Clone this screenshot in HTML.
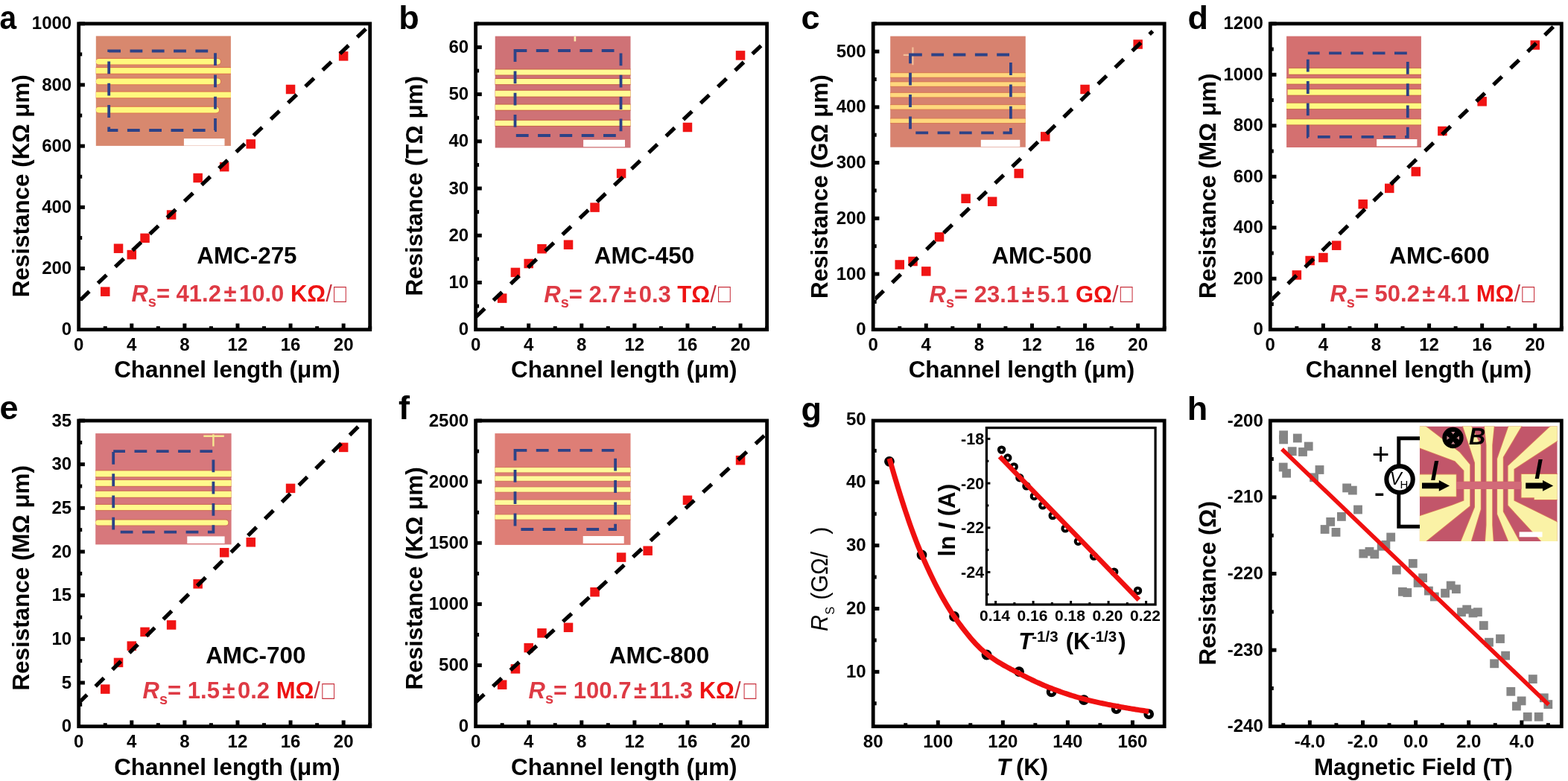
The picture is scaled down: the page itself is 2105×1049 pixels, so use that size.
<!DOCTYPE html><html><head><meta charset="utf-8"><style>html,body{margin:0;padding:0;background:#fff;overflow:hidden}svg{display:block}</style></head><body><svg width="2105" height="1049" viewBox="0 0 2105 1049" font-family='"Liberation Sans", Arial, sans-serif'>
<rect width="100%" height="100%" fill="#fff"/>
<defs>
<clipPath id="clip0"><rect x="108.1" y="34.2" width="386.2" height="406.1"/></clipPath>
<clipPath id="clip1"><rect x="641" y="34.2" width="386.2" height="406.1"/></clipPath>
<clipPath id="clip2"><rect x="1174.6" y="34.2" width="386.2" height="406.1"/></clipPath>
<clipPath id="clip3"><rect x="1707.7" y="34.2" width="386.2" height="406.1"/></clipPath>
<clipPath id="clip4"><rect x="108.1" y="567.4" width="386.2" height="405.9"/></clipPath>
<clipPath id="clip5"><rect x="641" y="567.4" width="386.2" height="405.9"/></clipPath>
<clipPath id="clip6"><rect x="1174.6" y="567.4" width="386.2" height="405.9"/></clipPath>
<clipPath id="clip7"><rect x="1707.7" y="567.4" width="386.2" height="405.9"/></clipPath>
</defs>
<rect x="128.8" y="48.4" width="181.1" height="147.5" fill="#D8886E"/>
<rect x="128.8" y="77.8" width="168.2" height="9.8" fill="#DC7450" rx="4.8"/>
<rect x="128.8" y="78.9" width="167.2" height="7.6" fill="#FFF87E" rx="3.8"/>
<rect x="128.8" y="90" width="181.1" height="9.8" fill="#DC7450" rx="0"/>
<rect x="128.8" y="91.1" width="181.1" height="7.6" fill="#FFF87E" rx="0"/>
<rect x="128.8" y="104.5" width="168.2" height="9.8" fill="#DC7450" rx="4.8"/>
<rect x="128.8" y="105.6" width="167.2" height="7.6" fill="#FFF87E" rx="3.8"/>
<rect x="128.8" y="122.5" width="181.1" height="9.8" fill="#DC7450" rx="0"/>
<rect x="128.8" y="123.6" width="181.1" height="7.6" fill="#FFF87E" rx="0"/>
<rect x="128.8" y="142.6" width="166.2" height="9.9" fill="#DC7450" rx="4.85"/>
<rect x="128.8" y="143.7" width="165.2" height="7.7" fill="#FFF87E" rx="3.85"/>

<path d="M146.2 68.5H289V175H146.2Z" fill="none" stroke="#2D4287" stroke-width="3.8" stroke-dasharray="16.8 12.5" stroke-dashoffset="1"/>
<rect x="246.9" y="186.1" width="54.6" height="9.5" fill="#FFFFFF"/>
<rect x="135" y="385.45" width="12.5" height="12.5" fill="#F01414"/>
<rect x="152.77" y="327.45" width="12.5" height="12.5" fill="#F01414"/>
<rect x="170.54" y="335.85" width="12.5" height="12.5" fill="#F01414"/>
<rect x="188.31" y="313.55" width="12.5" height="12.5" fill="#F01414"/>
<rect x="223.86" y="282.25" width="12.5" height="12.5" fill="#F01414"/>
<rect x="259.4" y="232.75" width="12.5" height="12.5" fill="#F01414"/>
<rect x="294.95" y="217.85" width="12.5" height="12.5" fill="#F01414"/>
<rect x="330.5" y="187.15" width="12.5" height="12.5" fill="#F01414"/>
<rect x="383.81" y="113.75" width="12.5" height="12.5" fill="#F01414"/>
<rect x="454.9" y="69.15" width="12.5" height="12.5" fill="#F01414"/>
<line x1="105.7" y1="404.9" x2="497" y2="33.44" stroke="#000" stroke-width="5.2" stroke-dasharray="16 16" stroke-dashoffset="-3.5" clip-path="url(#clip0)"/>
<rect x="105.7" y="31.8" width="391" height="410.9" fill="none" stroke="#000" stroke-width="4.8" stroke-linejoin="miter"/>
<line x1="141.25" y1="442.7" x2="141.25" y2="438.2" stroke="#000" stroke-width="5"/>
<line x1="176.79" y1="442.7" x2="176.79" y2="434.5" stroke="#000" stroke-width="5"/>
<line x1="212.34" y1="442.7" x2="212.34" y2="438.2" stroke="#000" stroke-width="5"/>
<line x1="247.88" y1="442.7" x2="247.88" y2="434.5" stroke="#000" stroke-width="5"/>
<line x1="283.43" y1="442.7" x2="283.43" y2="438.2" stroke="#000" stroke-width="5"/>
<line x1="318.97" y1="442.7" x2="318.97" y2="434.5" stroke="#000" stroke-width="5"/>
<line x1="354.52" y1="442.7" x2="354.52" y2="438.2" stroke="#000" stroke-width="5"/>
<line x1="390.06" y1="442.7" x2="390.06" y2="434.5" stroke="#000" stroke-width="5"/>
<line x1="425.61" y1="442.7" x2="425.61" y2="438.2" stroke="#000" stroke-width="5"/>
<line x1="461.15" y1="442.7" x2="461.15" y2="434.5" stroke="#000" stroke-width="5"/>
<line x1="496.7" y1="442.7" x2="496.7" y2="438.2" stroke="#000" stroke-width="5"/>
<line x1="105.7" y1="401.61" x2="110.2" y2="401.61" stroke="#000" stroke-width="5"/>
<line x1="105.7" y1="360.52" x2="113.9" y2="360.52" stroke="#000" stroke-width="5"/>
<line x1="105.7" y1="319.43" x2="110.2" y2="319.43" stroke="#000" stroke-width="5"/>
<line x1="105.7" y1="278.34" x2="113.9" y2="278.34" stroke="#000" stroke-width="5"/>
<line x1="105.7" y1="237.25" x2="110.2" y2="237.25" stroke="#000" stroke-width="5"/>
<line x1="105.7" y1="196.16" x2="113.9" y2="196.16" stroke="#000" stroke-width="5"/>
<line x1="105.7" y1="155.07" x2="110.2" y2="155.07" stroke="#000" stroke-width="5"/>
<line x1="105.7" y1="113.98" x2="113.9" y2="113.98" stroke="#000" stroke-width="5"/>
<line x1="105.7" y1="72.89" x2="110.2" y2="72.89" stroke="#000" stroke-width="5"/>
<line x1="105.7" y1="31.8" x2="113.9" y2="31.8" stroke="#000" stroke-width="5"/>
<text x="105.7" y="470.7" font-size="24" text-anchor="middle" font-weight="bold">0</text>
<text x="176.79" y="470.7" font-size="24" text-anchor="middle" font-weight="bold">4</text>
<text x="247.88" y="470.7" font-size="24" text-anchor="middle" font-weight="bold">8</text>
<text x="318.97" y="470.7" font-size="24" text-anchor="middle" font-weight="bold">12</text>
<text x="390.06" y="470.7" font-size="24" text-anchor="middle" font-weight="bold">16</text>
<text x="461.15" y="470.7" font-size="24" text-anchor="middle" font-weight="bold">20</text>
<text x="96.2" y="450.3" font-size="24" text-anchor="end" font-weight="bold">0</text>
<text x="96.2" y="368.12" font-size="24" text-anchor="end" font-weight="bold">200</text>
<text x="96.2" y="285.94" font-size="24" text-anchor="end" font-weight="bold">400</text>
<text x="96.2" y="203.76" font-size="24" text-anchor="end" font-weight="bold">600</text>
<text x="96.2" y="121.58" font-size="24" text-anchor="end" font-weight="bold">800</text>
<text x="96.2" y="39.4" font-size="24" text-anchor="end" font-weight="bold">1000</text>
<text x="304.9" y="507.1" font-size="31.4" text-anchor="middle" font-weight="bold">Channel length (μm)</text>
<text x="39.5" y="399.3" font-size="31.4" text-anchor="start" font-weight="bold" transform="rotate(-90 39.5 399.3)">Resistance (KΩ μm)</text>
<text x="-0.4" y="38.8" font-size="45.0" font-weight="bold" textLength="22.6" lengthAdjust="spacingAndGlyphs">a</text>
<rect x="664.7" y="48.6" width="181.8" height="149.9" fill="#CF7276"/>
<rect x="664.7" y="92.4" width="181.8" height="9.2" fill="#C8644E" rx="0"/>
<rect x="664.7" y="93.5" width="181.8" height="7" fill="#FFFA94" rx="0"/>
<rect x="664.7" y="104.9" width="181.8" height="9.3" fill="#C8644E" rx="0"/>
<rect x="664.7" y="106" width="181.8" height="7.1" fill="#FFFA94" rx="0"/>
<rect x="664.7" y="120.7" width="181.8" height="10" fill="#C8644E" rx="0"/>
<rect x="664.7" y="121.8" width="181.8" height="7.8" fill="#FFFA94" rx="0"/>
<rect x="664.7" y="139.5" width="181.8" height="9.3" fill="#C8644E" rx="0"/>
<rect x="664.7" y="140.6" width="181.8" height="7.1" fill="#FFFA94" rx="0"/>
<rect x="664.7" y="160.8" width="181.8" height="9.2" fill="#C8644E" rx="0"/>
<rect x="664.7" y="161.9" width="181.8" height="7" fill="#FFFA94" rx="0"/>
<rect x="770.6" y="49" width="2.6" height="6.5" fill="#FBEFB0"/>
<path d="M691.5 68H833.5V182H691.5Z" fill="none" stroke="#2D4287" stroke-width="3.8" stroke-dasharray="16.8 12.5" stroke-dashoffset="1"/>
<rect x="783.1" y="187.8" width="55.9" height="9.4" fill="#FFFFFF"/>
<rect x="667.9" y="394.35" width="12.5" height="12.5" fill="#F01414"/>
<rect x="685.67" y="359.65" width="12.5" height="12.5" fill="#F01414"/>
<rect x="703.44" y="347.75" width="12.5" height="12.5" fill="#F01414"/>
<rect x="721.21" y="327.95" width="12.5" height="12.5" fill="#F01414"/>
<rect x="756.76" y="322.45" width="12.5" height="12.5" fill="#F01414"/>
<rect x="792.3" y="272.35" width="12.5" height="12.5" fill="#F01414"/>
<rect x="827.85" y="226.75" width="12.5" height="12.5" fill="#F01414"/>
<rect x="916.71" y="164.75" width="12.5" height="12.5" fill="#F01414"/>
<rect x="987.8" y="68.15" width="12.5" height="12.5" fill="#F01414"/>
<line x1="638.6" y1="426" x2="1030" y2="53.5" stroke="#000" stroke-width="5.2" stroke-dasharray="16 16" stroke-dashoffset="-0.8" clip-path="url(#clip1)"/>
<rect x="638.6" y="31.8" width="391" height="410.9" fill="none" stroke="#000" stroke-width="4.8" stroke-linejoin="miter"/>
<line x1="674.15" y1="442.7" x2="674.15" y2="438.2" stroke="#000" stroke-width="5"/>
<line x1="709.69" y1="442.7" x2="709.69" y2="434.5" stroke="#000" stroke-width="5"/>
<line x1="745.24" y1="442.7" x2="745.24" y2="438.2" stroke="#000" stroke-width="5"/>
<line x1="780.78" y1="442.7" x2="780.78" y2="434.5" stroke="#000" stroke-width="5"/>
<line x1="816.33" y1="442.7" x2="816.33" y2="438.2" stroke="#000" stroke-width="5"/>
<line x1="851.87" y1="442.7" x2="851.87" y2="434.5" stroke="#000" stroke-width="5"/>
<line x1="887.42" y1="442.7" x2="887.42" y2="438.2" stroke="#000" stroke-width="5"/>
<line x1="922.96" y1="442.7" x2="922.96" y2="434.5" stroke="#000" stroke-width="5"/>
<line x1="958.51" y1="442.7" x2="958.51" y2="438.2" stroke="#000" stroke-width="5"/>
<line x1="994.05" y1="442.7" x2="994.05" y2="434.5" stroke="#000" stroke-width="5"/>
<line x1="1029.6" y1="442.7" x2="1029.6" y2="438.2" stroke="#000" stroke-width="5"/>
<line x1="638.6" y1="411.09" x2="643.1" y2="411.09" stroke="#000" stroke-width="5"/>
<line x1="638.6" y1="379.48" x2="646.8" y2="379.48" stroke="#000" stroke-width="5"/>
<line x1="638.6" y1="347.88" x2="643.1" y2="347.88" stroke="#000" stroke-width="5"/>
<line x1="638.6" y1="316.27" x2="646.8" y2="316.27" stroke="#000" stroke-width="5"/>
<line x1="638.6" y1="284.66" x2="643.1" y2="284.66" stroke="#000" stroke-width="5"/>
<line x1="638.6" y1="253.05" x2="646.8" y2="253.05" stroke="#000" stroke-width="5"/>
<line x1="638.6" y1="221.45" x2="643.1" y2="221.45" stroke="#000" stroke-width="5"/>
<line x1="638.6" y1="189.84" x2="646.8" y2="189.84" stroke="#000" stroke-width="5"/>
<line x1="638.6" y1="158.23" x2="643.1" y2="158.23" stroke="#000" stroke-width="5"/>
<line x1="638.6" y1="126.62" x2="646.8" y2="126.62" stroke="#000" stroke-width="5"/>
<line x1="638.6" y1="95.02" x2="643.1" y2="95.02" stroke="#000" stroke-width="5"/>
<line x1="638.6" y1="63.41" x2="646.8" y2="63.41" stroke="#000" stroke-width="5"/>
<line x1="638.6" y1="31.8" x2="643.1" y2="31.8" stroke="#000" stroke-width="5"/>
<text x="638.6" y="470.7" font-size="24" text-anchor="middle" font-weight="bold">0</text>
<text x="709.69" y="470.7" font-size="24" text-anchor="middle" font-weight="bold">4</text>
<text x="780.78" y="470.7" font-size="24" text-anchor="middle" font-weight="bold">8</text>
<text x="851.87" y="470.7" font-size="24" text-anchor="middle" font-weight="bold">12</text>
<text x="922.96" y="470.7" font-size="24" text-anchor="middle" font-weight="bold">16</text>
<text x="994.05" y="470.7" font-size="24" text-anchor="middle" font-weight="bold">20</text>
<text x="629.1" y="450.3" font-size="24" text-anchor="end" font-weight="bold">0</text>
<text x="629.1" y="387.08" font-size="24" text-anchor="end" font-weight="bold">10</text>
<text x="629.1" y="323.87" font-size="24" text-anchor="end" font-weight="bold">20</text>
<text x="629.1" y="260.65" font-size="24" text-anchor="end" font-weight="bold">30</text>
<text x="629.1" y="197.44" font-size="24" text-anchor="end" font-weight="bold">40</text>
<text x="629.1" y="134.22" font-size="24" text-anchor="end" font-weight="bold">50</text>
<text x="629.1" y="71.01" font-size="24" text-anchor="end" font-weight="bold">60</text>
<text x="837.8" y="507.1" font-size="31.4" text-anchor="middle" font-weight="bold">Channel length (μm)</text>
<text x="567.2" y="397.6" font-size="31.4" text-anchor="start" font-weight="bold" transform="rotate(-90 567.2 397.6)">Resistance (TΩ μm)</text>
<text x="535.2" y="38.5" font-size="45" text-anchor="start" font-weight="bold">b</text>
<rect x="1195.2" y="48.6" width="181.6" height="149.1" fill="#D7826F"/>
<rect x="1195.2" y="97.1" width="181.6" height="7.7" fill="#D87C58" rx="0"/>
<rect x="1195.2" y="98.2" width="181.6" height="5.5" fill="#FFD87D" rx="0"/>
<rect x="1195.2" y="109.2" width="181.6" height="7.7" fill="#D87C58" rx="0"/>
<rect x="1195.2" y="110.3" width="181.6" height="5.5" fill="#FFD87D" rx="0"/>
<rect x="1195.2" y="123.8" width="181.6" height="7.7" fill="#D87C58" rx="0"/>
<rect x="1195.2" y="124.9" width="181.6" height="5.5" fill="#FFD87D" rx="0"/>
<rect x="1195.2" y="140" width="181.6" height="7.7" fill="#D87C58" rx="0"/>
<rect x="1195.2" y="141.1" width="181.6" height="5.5" fill="#FFD87D" rx="0"/>
<rect x="1195.2" y="158.4" width="181.6" height="7.7" fill="#D87C58" rx="0"/>
<rect x="1195.2" y="159.5" width="181.6" height="5.5" fill="#FFD87D" rx="0"/>
<path d="M1212.8 73.8H1229.3M1225.4 63.6V87.2" stroke="#F2BE98" stroke-width="2.2"/>
<path d="M1222 73.5H1356.9V178.4H1222Z" fill="none" stroke="#2D4287" stroke-width="3.8" stroke-dasharray="16.8 12.5" stroke-dashoffset="1"/>
<rect x="1316.8" y="187.8" width="52.5" height="9.4" fill="#FFFFFF"/>
<rect x="1201.5" y="349.25" width="12.5" height="12.5" fill="#F01414"/>
<rect x="1219.27" y="344.75" width="12.5" height="12.5" fill="#F01414"/>
<rect x="1237.04" y="358.15" width="12.5" height="12.5" fill="#F01414"/>
<rect x="1254.81" y="312.05" width="12.5" height="12.5" fill="#F01414"/>
<rect x="1290.36" y="260.45" width="12.5" height="12.5" fill="#F01414"/>
<rect x="1325.9" y="264.45" width="12.5" height="12.5" fill="#F01414"/>
<rect x="1361.45" y="226.75" width="12.5" height="12.5" fill="#F01414"/>
<rect x="1397" y="177.15" width="12.5" height="12.5" fill="#F01414"/>
<rect x="1450.31" y="113.75" width="12.5" height="12.5" fill="#F01414"/>
<rect x="1521.4" y="53.25" width="12.5" height="12.5" fill="#F01414"/>
<line x1="1172.2" y1="404.2" x2="1547.5" y2="41.96" stroke="#000" stroke-width="5.2" stroke-dasharray="16 16" stroke-dashoffset="-3.5" clip-path="url(#clip2)"/>
<rect x="1172.2" y="31.8" width="391" height="410.9" fill="none" stroke="#000" stroke-width="4.8" stroke-linejoin="miter"/>
<line x1="1207.75" y1="442.7" x2="1207.75" y2="438.2" stroke="#000" stroke-width="5"/>
<line x1="1243.29" y1="442.7" x2="1243.29" y2="434.5" stroke="#000" stroke-width="5"/>
<line x1="1278.84" y1="442.7" x2="1278.84" y2="438.2" stroke="#000" stroke-width="5"/>
<line x1="1314.38" y1="442.7" x2="1314.38" y2="434.5" stroke="#000" stroke-width="5"/>
<line x1="1349.93" y1="442.7" x2="1349.93" y2="438.2" stroke="#000" stroke-width="5"/>
<line x1="1385.47" y1="442.7" x2="1385.47" y2="434.5" stroke="#000" stroke-width="5"/>
<line x1="1421.02" y1="442.7" x2="1421.02" y2="438.2" stroke="#000" stroke-width="5"/>
<line x1="1456.56" y1="442.7" x2="1456.56" y2="434.5" stroke="#000" stroke-width="5"/>
<line x1="1492.11" y1="442.7" x2="1492.11" y2="438.2" stroke="#000" stroke-width="5"/>
<line x1="1527.65" y1="442.7" x2="1527.65" y2="434.5" stroke="#000" stroke-width="5"/>
<line x1="1563.2" y1="442.7" x2="1563.2" y2="438.2" stroke="#000" stroke-width="5"/>
<line x1="1172.2" y1="405.35" x2="1176.7" y2="405.35" stroke="#000" stroke-width="5"/>
<line x1="1172.2" y1="367.99" x2="1180.4" y2="367.99" stroke="#000" stroke-width="5"/>
<line x1="1172.2" y1="330.64" x2="1176.7" y2="330.64" stroke="#000" stroke-width="5"/>
<line x1="1172.2" y1="293.28" x2="1180.4" y2="293.28" stroke="#000" stroke-width="5"/>
<line x1="1172.2" y1="255.93" x2="1176.7" y2="255.93" stroke="#000" stroke-width="5"/>
<line x1="1172.2" y1="218.57" x2="1180.4" y2="218.57" stroke="#000" stroke-width="5"/>
<line x1="1172.2" y1="181.22" x2="1176.7" y2="181.22" stroke="#000" stroke-width="5"/>
<line x1="1172.2" y1="143.86" x2="1180.4" y2="143.86" stroke="#000" stroke-width="5"/>
<line x1="1172.2" y1="106.51" x2="1176.7" y2="106.51" stroke="#000" stroke-width="5"/>
<line x1="1172.2" y1="69.15" x2="1180.4" y2="69.15" stroke="#000" stroke-width="5"/>
<line x1="1172.2" y1="31.8" x2="1176.7" y2="31.8" stroke="#000" stroke-width="5"/>
<text x="1172.2" y="470.7" font-size="24" text-anchor="middle" font-weight="bold">0</text>
<text x="1243.29" y="470.7" font-size="24" text-anchor="middle" font-weight="bold">4</text>
<text x="1314.38" y="470.7" font-size="24" text-anchor="middle" font-weight="bold">8</text>
<text x="1385.47" y="470.7" font-size="24" text-anchor="middle" font-weight="bold">12</text>
<text x="1456.56" y="470.7" font-size="24" text-anchor="middle" font-weight="bold">16</text>
<text x="1527.65" y="470.7" font-size="24" text-anchor="middle" font-weight="bold">20</text>
<text x="1162.7" y="450.3" font-size="24" text-anchor="end" font-weight="bold">0</text>
<text x="1162.7" y="375.59" font-size="24" text-anchor="end" font-weight="bold">100</text>
<text x="1162.7" y="300.88" font-size="24" text-anchor="end" font-weight="bold">200</text>
<text x="1162.7" y="226.17" font-size="24" text-anchor="end" font-weight="bold">300</text>
<text x="1162.7" y="151.46" font-size="24" text-anchor="end" font-weight="bold">400</text>
<text x="1162.7" y="76.75" font-size="24" text-anchor="end" font-weight="bold">500</text>
<text x="1371.4" y="507.1" font-size="31.4" text-anchor="middle" font-weight="bold">Channel length (μm)</text>
<text x="1111.2" y="401" font-size="31.4" text-anchor="start" font-weight="bold" transform="rotate(-90 1111.2 401)">Resistance (GΩ μm)</text>
<text x="1075.6" y="39" font-size="45" text-anchor="start" font-weight="bold">c</text>
<rect x="1727.1" y="48.6" width="180.8" height="149.4" fill="#D47070"/>
<rect x="1730.2" y="90.8" width="177.7" height="10" fill="#C86850" rx="0"/>
<rect x="1730.2" y="91.9" width="177.7" height="7.8" fill="#FFFA82" rx="0"/>
<rect x="1727.1" y="104.2" width="180.8" height="9.5" fill="#C86850" rx="0"/>
<rect x="1727.1" y="105.3" width="180.8" height="7.3" fill="#FFFA82" rx="0"/>
<rect x="1728.5" y="119.1" width="179.4" height="9.6" fill="#C86850" rx="0"/>
<rect x="1728.5" y="120.2" width="179.4" height="7.4" fill="#FFFA82" rx="0"/>
<rect x="1727.1" y="137.6" width="180.8" height="9.6" fill="#C86850" rx="0"/>
<rect x="1727.1" y="138.7" width="180.8" height="7.4" fill="#FFFA82" rx="0"/>
<rect x="1727.1" y="159.2" width="180.8" height="9.3" fill="#C86850" rx="0"/>
<rect x="1727.1" y="160.3" width="180.8" height="7.1" fill="#FFFA82" rx="0"/>

<path d="M1755.8 71.4H1889.8V183.9H1755.8Z" fill="none" stroke="#2D4287" stroke-width="3.8" stroke-dasharray="16.8 12.5" stroke-dashoffset="1"/>
<rect x="1848.1" y="187" width="54.3" height="9.4" fill="#FFFFFF"/>
<rect x="1734.6" y="363.15" width="12.5" height="12.5" fill="#F01414"/>
<rect x="1752.37" y="343.75" width="12.5" height="12.5" fill="#F01414"/>
<rect x="1770.14" y="339.75" width="12.5" height="12.5" fill="#F01414"/>
<rect x="1787.91" y="323.45" width="12.5" height="12.5" fill="#F01414"/>
<rect x="1823.46" y="267.95" width="12.5" height="12.5" fill="#F01414"/>
<rect x="1859" y="246.65" width="12.5" height="12.5" fill="#F01414"/>
<rect x="1894.55" y="224.25" width="12.5" height="12.5" fill="#F01414"/>
<rect x="1930.1" y="169.75" width="12.5" height="12.5" fill="#F01414"/>
<rect x="1983.41" y="130.05" width="12.5" height="12.5" fill="#F01414"/>
<rect x="2054.5" y="54.25" width="12.5" height="12.5" fill="#F01414"/>
<line x1="1705.3" y1="404.15" x2="2097" y2="24.63" stroke="#000" stroke-width="5.2" stroke-dasharray="16 16" stroke-dashoffset="-1.1" clip-path="url(#clip3)"/>
<rect x="1705.3" y="31.8" width="391" height="410.9" fill="none" stroke="#000" stroke-width="4.8" stroke-linejoin="miter"/>
<line x1="1740.85" y1="442.7" x2="1740.85" y2="438.2" stroke="#000" stroke-width="5"/>
<line x1="1776.39" y1="442.7" x2="1776.39" y2="434.5" stroke="#000" stroke-width="5"/>
<line x1="1811.94" y1="442.7" x2="1811.94" y2="438.2" stroke="#000" stroke-width="5"/>
<line x1="1847.48" y1="442.7" x2="1847.48" y2="434.5" stroke="#000" stroke-width="5"/>
<line x1="1883.03" y1="442.7" x2="1883.03" y2="438.2" stroke="#000" stroke-width="5"/>
<line x1="1918.57" y1="442.7" x2="1918.57" y2="434.5" stroke="#000" stroke-width="5"/>
<line x1="1954.12" y1="442.7" x2="1954.12" y2="438.2" stroke="#000" stroke-width="5"/>
<line x1="1989.66" y1="442.7" x2="1989.66" y2="434.5" stroke="#000" stroke-width="5"/>
<line x1="2025.21" y1="442.7" x2="2025.21" y2="438.2" stroke="#000" stroke-width="5"/>
<line x1="2060.75" y1="442.7" x2="2060.75" y2="434.5" stroke="#000" stroke-width="5"/>
<line x1="2096.3" y1="442.7" x2="2096.3" y2="438.2" stroke="#000" stroke-width="5"/>
<line x1="1705.3" y1="408.46" x2="1709.8" y2="408.46" stroke="#000" stroke-width="5"/>
<line x1="1705.3" y1="374.22" x2="1713.5" y2="374.22" stroke="#000" stroke-width="5"/>
<line x1="1705.3" y1="339.98" x2="1709.8" y2="339.98" stroke="#000" stroke-width="5"/>
<line x1="1705.3" y1="305.73" x2="1713.5" y2="305.73" stroke="#000" stroke-width="5"/>
<line x1="1705.3" y1="271.49" x2="1709.8" y2="271.49" stroke="#000" stroke-width="5"/>
<line x1="1705.3" y1="237.25" x2="1713.5" y2="237.25" stroke="#000" stroke-width="5"/>
<line x1="1705.3" y1="203.01" x2="1709.8" y2="203.01" stroke="#000" stroke-width="5"/>
<line x1="1705.3" y1="168.77" x2="1713.5" y2="168.77" stroke="#000" stroke-width="5"/>
<line x1="1705.3" y1="134.53" x2="1709.8" y2="134.53" stroke="#000" stroke-width="5"/>
<line x1="1705.3" y1="100.28" x2="1713.5" y2="100.28" stroke="#000" stroke-width="5"/>
<line x1="1705.3" y1="66.04" x2="1709.8" y2="66.04" stroke="#000" stroke-width="5"/>
<line x1="1705.3" y1="31.8" x2="1713.5" y2="31.8" stroke="#000" stroke-width="5"/>
<text x="1705.3" y="470.7" font-size="24" text-anchor="middle" font-weight="bold">0</text>
<text x="1776.39" y="470.7" font-size="24" text-anchor="middle" font-weight="bold">4</text>
<text x="1847.48" y="470.7" font-size="24" text-anchor="middle" font-weight="bold">8</text>
<text x="1918.57" y="470.7" font-size="24" text-anchor="middle" font-weight="bold">12</text>
<text x="1989.66" y="470.7" font-size="24" text-anchor="middle" font-weight="bold">16</text>
<text x="2060.75" y="470.7" font-size="24" text-anchor="middle" font-weight="bold">20</text>
<text x="1695.8" y="450.3" font-size="24" text-anchor="end" font-weight="bold">0</text>
<text x="1695.8" y="381.82" font-size="24" text-anchor="end" font-weight="bold">200</text>
<text x="1695.8" y="313.33" font-size="24" text-anchor="end" font-weight="bold">400</text>
<text x="1695.8" y="244.85" font-size="24" text-anchor="end" font-weight="bold">600</text>
<text x="1695.8" y="176.37" font-size="24" text-anchor="end" font-weight="bold">800</text>
<text x="1695.8" y="107.88" font-size="24" text-anchor="end" font-weight="bold">1000</text>
<text x="1695.8" y="39.4" font-size="24" text-anchor="end" font-weight="bold">1200</text>
<text x="1904.5" y="507.1" font-size="31.4" text-anchor="middle" font-weight="bold">Channel length (μm)</text>
<text x="1632" y="401" font-size="31.4" text-anchor="start" font-weight="bold" transform="rotate(-90 1632 401)">Resistance (MΩ μm)</text>
<text x="1594.5" y="39" font-size="45" text-anchor="start" font-weight="bold">d</text>
<rect x="128.2" y="582.1" width="182.4" height="149.3" fill="#D7787C"/>
<rect x="128.2" y="631.3" width="182.4" height="10.1" fill="#D07058" rx="0"/>
<rect x="128.2" y="632.4" width="182.4" height="7.9" fill="#FFFA8C" rx="0"/>
<rect x="128.2" y="643.9" width="182.4" height="10" fill="#D07058" rx="0"/>
<rect x="128.2" y="645" width="182.4" height="7.8" fill="#FFFA8C" rx="0"/>
<rect x="128.2" y="658.8" width="182.4" height="10.1" fill="#D07058" rx="0"/>
<rect x="128.2" y="659.9" width="182.4" height="7.9" fill="#FFFA8C" rx="0"/>
<rect x="128.2" y="676.9" width="182.4" height="9.3" fill="#D07058" rx="0"/>
<rect x="128.2" y="678" width="182.4" height="7.1" fill="#FFFA8C" rx="0"/>
<rect x="128.2" y="697.3" width="179.1" height="9.3" fill="#D07058" rx="4.55"/>
<rect x="128.2" y="698.4" width="178.1" height="7.1" fill="#FFFA8C" rx="3.55"/>
<path d="M273.3 585.7H300.8M286.4 583.2V599.4" stroke="#F6E890" stroke-width="2.4"/>
<path d="M152.2 606.1H286.4V714.6H152.2Z" fill="none" stroke="#2D4287" stroke-width="3.8" stroke-dasharray="16.8 12.5" stroke-dashoffset="1"/>
<rect x="251.3" y="720.4" width="50.3" height="9.5" fill="#FFFFFF"/>
<rect x="135" y="919.35" width="12.5" height="12.5" fill="#F01414"/>
<rect x="152.77" y="883.65" width="12.5" height="12.5" fill="#F01414"/>
<rect x="170.54" y="861.35" width="12.5" height="12.5" fill="#F01414"/>
<rect x="188.31" y="842.55" width="12.5" height="12.5" fill="#F01414"/>
<rect x="223.86" y="833.15" width="12.5" height="12.5" fill="#F01414"/>
<rect x="259.4" y="778.05" width="12.5" height="12.5" fill="#F01414"/>
<rect x="294.95" y="735.95" width="12.5" height="12.5" fill="#F01414"/>
<rect x="330.5" y="722.05" width="12.5" height="12.5" fill="#F01414"/>
<rect x="383.81" y="649.65" width="12.5" height="12.5" fill="#F01414"/>
<rect x="454.9" y="594.65" width="12.5" height="12.5" fill="#F01414"/>
<line x1="105.7" y1="944.15" x2="497" y2="557.12" stroke="#000" stroke-width="5.2" stroke-dasharray="16 16" stroke-dashoffset="0.4" clip-path="url(#clip4)"/>
<rect x="105.7" y="565" width="391" height="410.7" fill="none" stroke="#000" stroke-width="4.8" stroke-linejoin="miter"/>
<line x1="141.25" y1="975.7" x2="141.25" y2="971.2" stroke="#000" stroke-width="5"/>
<line x1="176.79" y1="975.7" x2="176.79" y2="967.5" stroke="#000" stroke-width="5"/>
<line x1="212.34" y1="975.7" x2="212.34" y2="971.2" stroke="#000" stroke-width="5"/>
<line x1="247.88" y1="975.7" x2="247.88" y2="967.5" stroke="#000" stroke-width="5"/>
<line x1="283.43" y1="975.7" x2="283.43" y2="971.2" stroke="#000" stroke-width="5"/>
<line x1="318.97" y1="975.7" x2="318.97" y2="967.5" stroke="#000" stroke-width="5"/>
<line x1="354.52" y1="975.7" x2="354.52" y2="971.2" stroke="#000" stroke-width="5"/>
<line x1="390.06" y1="975.7" x2="390.06" y2="967.5" stroke="#000" stroke-width="5"/>
<line x1="425.61" y1="975.7" x2="425.61" y2="971.2" stroke="#000" stroke-width="5"/>
<line x1="461.15" y1="975.7" x2="461.15" y2="967.5" stroke="#000" stroke-width="5"/>
<line x1="496.7" y1="975.7" x2="496.7" y2="971.2" stroke="#000" stroke-width="5"/>
<line x1="105.7" y1="946.36" x2="110.2" y2="946.36" stroke="#000" stroke-width="5"/>
<line x1="105.7" y1="917.03" x2="113.9" y2="917.03" stroke="#000" stroke-width="5"/>
<line x1="105.7" y1="887.69" x2="110.2" y2="887.69" stroke="#000" stroke-width="5"/>
<line x1="105.7" y1="858.36" x2="113.9" y2="858.36" stroke="#000" stroke-width="5"/>
<line x1="105.7" y1="829.02" x2="110.2" y2="829.02" stroke="#000" stroke-width="5"/>
<line x1="105.7" y1="799.69" x2="113.9" y2="799.69" stroke="#000" stroke-width="5"/>
<line x1="105.7" y1="770.35" x2="110.2" y2="770.35" stroke="#000" stroke-width="5"/>
<line x1="105.7" y1="741.01" x2="113.9" y2="741.01" stroke="#000" stroke-width="5"/>
<line x1="105.7" y1="711.68" x2="110.2" y2="711.68" stroke="#000" stroke-width="5"/>
<line x1="105.7" y1="682.34" x2="113.9" y2="682.34" stroke="#000" stroke-width="5"/>
<line x1="105.7" y1="653.01" x2="110.2" y2="653.01" stroke="#000" stroke-width="5"/>
<line x1="105.7" y1="623.67" x2="113.9" y2="623.67" stroke="#000" stroke-width="5"/>
<line x1="105.7" y1="594.34" x2="110.2" y2="594.34" stroke="#000" stroke-width="5"/>
<line x1="105.7" y1="565" x2="113.9" y2="565" stroke="#000" stroke-width="5"/>
<text x="105.7" y="1003.7" font-size="24" text-anchor="middle" font-weight="bold">0</text>
<text x="176.79" y="1003.7" font-size="24" text-anchor="middle" font-weight="bold">4</text>
<text x="247.88" y="1003.7" font-size="24" text-anchor="middle" font-weight="bold">8</text>
<text x="318.97" y="1003.7" font-size="24" text-anchor="middle" font-weight="bold">12</text>
<text x="390.06" y="1003.7" font-size="24" text-anchor="middle" font-weight="bold">16</text>
<text x="461.15" y="1003.7" font-size="24" text-anchor="middle" font-weight="bold">20</text>
<text x="96.2" y="983.3" font-size="24" text-anchor="end" font-weight="bold">0</text>
<text x="96.2" y="924.63" font-size="24" text-anchor="end" font-weight="bold">5</text>
<text x="96.2" y="865.96" font-size="24" text-anchor="end" font-weight="bold">10</text>
<text x="96.2" y="807.29" font-size="24" text-anchor="end" font-weight="bold">15</text>
<text x="96.2" y="748.61" font-size="24" text-anchor="end" font-weight="bold">20</text>
<text x="96.2" y="689.94" font-size="24" text-anchor="end" font-weight="bold">25</text>
<text x="96.2" y="631.27" font-size="24" text-anchor="end" font-weight="bold">30</text>
<text x="96.2" y="572.6" font-size="24" text-anchor="end" font-weight="bold">35</text>
<text x="304.9" y="1041.4" font-size="31.4" text-anchor="middle" font-weight="bold">Channel length (μm)</text>
<text x="39.5" y="927.6" font-size="31.4" text-anchor="start" font-weight="bold" transform="rotate(-90 39.5 927.6)">Resistance (MΩ μm)</text>
<text x="-0.56" y="562.8" font-size="45" text-anchor="start" font-weight="bold">e</text>
<rect x="664.4" y="582.1" width="182.1" height="149.8" fill="#DE7E76"/>
<rect x="664.4" y="627" width="182.1" height="8.5" fill="#D47A62" rx="0"/>
<rect x="664.4" y="628.1" width="182.1" height="6.3" fill="#FFFA9A" rx="0"/>
<rect x="664.4" y="638.4" width="182.1" height="8.5" fill="#D47A62" rx="0"/>
<rect x="664.4" y="639.5" width="182.1" height="6.3" fill="#FFFA9A" rx="0"/>
<rect x="664.4" y="653.3" width="182.1" height="8.5" fill="#D47A62" rx="0"/>
<rect x="664.4" y="654.4" width="182.1" height="6.3" fill="#FFFA9A" rx="0"/>
<rect x="664.4" y="670.6" width="182.1" height="8.5" fill="#D47A62" rx="0"/>
<rect x="664.4" y="671.7" width="182.1" height="6.3" fill="#FFFA9A" rx="0"/>
<rect x="664.4" y="690.3" width="182.1" height="8.4" fill="#D47A62" rx="0"/>
<rect x="664.4" y="691.4" width="182.1" height="6.2" fill="#FFFA9A" rx="0"/>

<path d="M691.5 604.9H826.1V711H691.5Z" fill="none" stroke="#2D4287" stroke-width="3.8" stroke-dasharray="16.8 12.5" stroke-dashoffset="1"/>
<rect x="782.7" y="720" width="55" height="9.9" fill="#FFFFFF"/>
<rect x="667.9" y="913.45" width="12.5" height="12.5" fill="#F01414"/>
<rect x="685.67" y="892.15" width="12.5" height="12.5" fill="#F01414"/>
<rect x="703.44" y="863.85" width="12.5" height="12.5" fill="#F01414"/>
<rect x="721.21" y="844.05" width="12.5" height="12.5" fill="#F01414"/>
<rect x="756.76" y="836.55" width="12.5" height="12.5" fill="#F01414"/>
<rect x="792.3" y="788.95" width="12.5" height="12.5" fill="#F01414"/>
<rect x="827.85" y="742.35" width="12.5" height="12.5" fill="#F01414"/>
<rect x="863.4" y="733.45" width="12.5" height="12.5" fill="#F01414"/>
<rect x="916.71" y="665.55" width="12.5" height="12.5" fill="#F01414"/>
<rect x="987.8" y="611.95" width="12.5" height="12.5" fill="#F01414"/>
<line x1="638.6" y1="943.2" x2="1030" y2="581.51" stroke="#000" stroke-width="5.2" stroke-dasharray="16 16" stroke-dashoffset="0.5" clip-path="url(#clip5)"/>
<rect x="638.6" y="565" width="391" height="410.7" fill="none" stroke="#000" stroke-width="4.8" stroke-linejoin="miter"/>
<line x1="674.15" y1="975.7" x2="674.15" y2="971.2" stroke="#000" stroke-width="5"/>
<line x1="709.69" y1="975.7" x2="709.69" y2="967.5" stroke="#000" stroke-width="5"/>
<line x1="745.24" y1="975.7" x2="745.24" y2="971.2" stroke="#000" stroke-width="5"/>
<line x1="780.78" y1="975.7" x2="780.78" y2="967.5" stroke="#000" stroke-width="5"/>
<line x1="816.33" y1="975.7" x2="816.33" y2="971.2" stroke="#000" stroke-width="5"/>
<line x1="851.87" y1="975.7" x2="851.87" y2="967.5" stroke="#000" stroke-width="5"/>
<line x1="887.42" y1="975.7" x2="887.42" y2="971.2" stroke="#000" stroke-width="5"/>
<line x1="922.96" y1="975.7" x2="922.96" y2="967.5" stroke="#000" stroke-width="5"/>
<line x1="958.51" y1="975.7" x2="958.51" y2="971.2" stroke="#000" stroke-width="5"/>
<line x1="994.05" y1="975.7" x2="994.05" y2="967.5" stroke="#000" stroke-width="5"/>
<line x1="1029.6" y1="975.7" x2="1029.6" y2="971.2" stroke="#000" stroke-width="5"/>
<line x1="638.6" y1="934.63" x2="643.1" y2="934.63" stroke="#000" stroke-width="5"/>
<line x1="638.6" y1="893.56" x2="646.8" y2="893.56" stroke="#000" stroke-width="5"/>
<line x1="638.6" y1="852.49" x2="643.1" y2="852.49" stroke="#000" stroke-width="5"/>
<line x1="638.6" y1="811.42" x2="646.8" y2="811.42" stroke="#000" stroke-width="5"/>
<line x1="638.6" y1="770.35" x2="643.1" y2="770.35" stroke="#000" stroke-width="5"/>
<line x1="638.6" y1="729.28" x2="646.8" y2="729.28" stroke="#000" stroke-width="5"/>
<line x1="638.6" y1="688.21" x2="643.1" y2="688.21" stroke="#000" stroke-width="5"/>
<line x1="638.6" y1="647.14" x2="646.8" y2="647.14" stroke="#000" stroke-width="5"/>
<line x1="638.6" y1="606.07" x2="643.1" y2="606.07" stroke="#000" stroke-width="5"/>
<line x1="638.6" y1="565" x2="646.8" y2="565" stroke="#000" stroke-width="5"/>
<text x="638.6" y="1003.7" font-size="24" text-anchor="middle" font-weight="bold">0</text>
<text x="709.69" y="1003.7" font-size="24" text-anchor="middle" font-weight="bold">4</text>
<text x="780.78" y="1003.7" font-size="24" text-anchor="middle" font-weight="bold">8</text>
<text x="851.87" y="1003.7" font-size="24" text-anchor="middle" font-weight="bold">12</text>
<text x="922.96" y="1003.7" font-size="24" text-anchor="middle" font-weight="bold">16</text>
<text x="994.05" y="1003.7" font-size="24" text-anchor="middle" font-weight="bold">20</text>
<text x="629.1" y="983.3" font-size="24" text-anchor="end" font-weight="bold">0</text>
<text x="629.1" y="901.16" font-size="24" text-anchor="end" font-weight="bold">500</text>
<text x="629.1" y="819.02" font-size="24" text-anchor="end" font-weight="bold">1000</text>
<text x="629.1" y="736.88" font-size="24" text-anchor="end" font-weight="bold">1500</text>
<text x="629.1" y="654.74" font-size="24" text-anchor="end" font-weight="bold">2000</text>
<text x="629.1" y="572.6" font-size="24" text-anchor="end" font-weight="bold">2500</text>
<text x="837.8" y="1041.4" font-size="31.4" text-anchor="middle" font-weight="bold">Channel length (μm)</text>
<text x="567.2" y="926.4" font-size="31.4" text-anchor="start" font-weight="bold" transform="rotate(-90 567.2 926.4)">Resistance (KΩ μm)</text>
<text x="534.9" y="563" font-size="45" text-anchor="start" font-weight="bold">f</text>
<text x="176.4" y="405" font-size="31" font-weight="bold" fill="#DE3A44"><tspan font-style="italic">R</tspan><tspan font-size="20" dy="7.4">s</tspan><tspan dy="-7.4">= 41.2</tspan><tspan dx="3.5">±</tspan><tspan dx="3.5">10.0 </tspan><tspan fill="#EE1212">KΩ</tspan><tspan fill="#C8323E" font-weight="normal">/</tspan></text>
<text transform="translate(448.1 405.6) scale(0.901 1.122)" font-size="31" fill="#C8323E">□</text>
<text x="730.3" y="405.5" font-size="31" font-weight="bold" fill="#DE3A44"><tspan font-style="italic">R</tspan><tspan font-size="20" dy="7.4">s</tspan><tspan dy="-7.4">= 2.7</tspan><tspan dx="3.5">±</tspan><tspan dx="3.5">0.3 </tspan><tspan fill="#EE1212">TΩ</tspan><tspan fill="#C8323E" font-weight="normal">/</tspan></text>
<text transform="translate(964.06 406.1) scale(0.901 1.122)" font-size="31" fill="#C8323E">□</text>
<text x="1247.6" y="405.5" font-size="31" font-weight="bold" fill="#DE3A44"><tspan font-style="italic">R</tspan><tspan font-size="20" dy="7.4">s</tspan><tspan dy="-7.4">= 23.1</tspan><tspan dx="3.5">±</tspan><tspan dx="3.5">5.1 </tspan><tspan fill="#EE1212">GΩ</tspan><tspan fill="#C8323E" font-weight="normal">/</tspan></text>
<text transform="translate(1503.78 406.1) scale(0.901 1.122)" font-size="31" fill="#C8323E">□</text>
<text x="1785.4" y="405.3" font-size="31" font-weight="bold" fill="#DE3A44"><tspan font-style="italic">R</tspan><tspan font-size="20" dy="7.4">s</tspan><tspan dy="-7.4">= 50.2</tspan><tspan dx="3.5">±</tspan><tspan dx="3.5">4.1 </tspan><tspan fill="#EE1212">MΩ</tspan><tspan fill="#C8323E" font-weight="normal">/</tspan></text>
<text transform="translate(2043.29 405.9) scale(0.901 1.122)" font-size="31" fill="#C8323E">□</text>
<text x="191.6" y="938.1" font-size="31" font-weight="bold" fill="#DE3A44"><tspan font-style="italic">R</tspan><tspan font-size="20" dy="7.4">s</tspan><tspan dy="-7.4">= 1.5</tspan><tspan dx="3.5">±</tspan><tspan dx="3.5">0.2 </tspan><tspan fill="#EE1212">MΩ</tspan><tspan fill="#C8323E" font-weight="normal">/</tspan></text>
<text transform="translate(432.25 938.7) scale(0.901 1.122)" font-size="31" fill="#C8323E">□</text>
<text x="709.6" y="937.9" font-size="31" font-weight="bold" fill="#DE3A44"><tspan font-style="italic">R</tspan><tspan font-size="20" dy="7.4">s</tspan><tspan dy="-7.4">= 100.7</tspan><tspan dx="3.5">±</tspan><tspan dx="3.5">11.3 </tspan><tspan fill="#EE1212">KΩ</tspan><tspan fill="#C8323E" font-weight="normal">/</tspan></text>
<text transform="translate(998.54 938.5) scale(0.901 1.122)" font-size="31" fill="#C8323E">□</text>
<text x="331.4" y="354.2" font-size="31.4" text-anchor="middle" font-weight="bold">AMC-275</text>
<text x="865" y="353.8" font-size="31.4" text-anchor="middle" font-weight="bold">AMC-450</text>
<text x="1398.6" y="354" font-size="31.4" text-anchor="middle" font-weight="bold">AMC-500</text>
<text x="1932.5" y="354.2" font-size="31.4" text-anchor="middle" font-weight="bold">AMC-600</text>
<text x="343.3" y="890.9" font-size="31.4" text-anchor="middle" font-weight="bold">AMC-700</text>
<text x="885.1" y="891" font-size="31.4" text-anchor="middle" font-weight="bold">AMC-800</text>
<circle cx="1193.97" cy="619.8" r="4.4" fill="none" stroke="#000" stroke-width="5.0"/>
<circle cx="1237.5" cy="745.3" r="4.4" fill="none" stroke="#000" stroke-width="5.0"/>
<circle cx="1281.03" cy="828" r="4.4" fill="none" stroke="#000" stroke-width="5.0"/>
<circle cx="1324.56" cy="879.5" r="4.4" fill="none" stroke="#000" stroke-width="5.0"/>
<circle cx="1368.09" cy="902.1" r="4.4" fill="none" stroke="#000" stroke-width="5.0"/>
<circle cx="1411.62" cy="929.4" r="4.4" fill="none" stroke="#000" stroke-width="5.0"/>
<circle cx="1455.14" cy="940.1" r="4.4" fill="none" stroke="#000" stroke-width="5.0"/>
<circle cx="1498.67" cy="952" r="4.4" fill="none" stroke="#000" stroke-width="5.0"/>
<circle cx="1542.2" cy="959.1" r="4.4" fill="none" stroke="#000" stroke-width="5.0"/>
<polyline points="1193.97,615.7 1196.14,623.31 1198.32,630.82 1200.49,638.23 1202.67,645.54 1204.85,652.74 1207.02,659.83 1209.2,666.81 1211.38,673.67 1213.55,680.4 1215.73,687.01 1217.91,693.49 1220.08,699.83 1222.26,706.04 1224.44,712.11 1226.61,718.03 1228.79,723.8 1230.97,729.41 1233.14,734.87 1235.32,740.17 1237.5,745.3 1239.67,750.31 1241.85,755.23 1244.02,760.07 1246.2,764.82 1248.38,769.49 1250.55,774.06 1252.73,778.55 1254.91,782.94 1257.08,787.25 1259.26,791.45 1261.44,795.56 1263.61,799.57 1265.79,803.49 1267.97,807.3 1270.14,811.01 1272.32,814.62 1274.5,818.13 1276.67,821.53 1278.85,824.82 1281.03,828 1283.2,831.11 1285.38,834.17 1287.55,837.18 1289.73,840.14 1291.91,843.04 1294.08,845.89 1296.26,848.68 1298.44,851.41 1300.61,854.07 1302.79,856.66 1304.97,859.19 1307.14,861.64 1309.32,864.01 1311.5,866.31 1313.67,868.53 1315.85,870.66 1318.03,872.71 1320.2,874.66 1322.38,876.53 1324.56,878.3 1326.73,879.99 1328.91,881.62 1331.08,883.19 1333.26,884.71 1335.44,886.17 1337.61,887.59 1339.79,888.97 1341.97,890.3 1344.14,891.6 1346.32,892.86 1348.5,894.1 1350.67,895.31 1352.85,896.5 1355.03,897.67 1357.2,898.82 1359.38,899.97 1361.56,901.1 1363.73,902.23 1365.91,903.37 1368.09,904.5 1370.26,905.63 1372.44,906.76 1374.61,907.87 1376.79,908.97 1378.97,910.06 1381.14,911.13 1383.32,912.2 1385.5,913.25 1387.67,914.28 1389.85,915.3 1392.03,916.31 1394.2,917.3 1396.38,918.28 1398.56,919.24 1400.73,920.18 1402.91,921.1 1405.09,922 1407.26,922.89 1409.44,923.75 1411.62,924.6 1413.79,925.43 1415.97,926.25 1418.14,927.06 1420.32,927.86 1422.5,928.65 1424.67,929.43 1426.85,930.19 1429.03,930.94 1431.2,931.68 1433.38,932.41 1435.56,933.13 1437.73,933.83 1439.91,934.51 1442.09,935.19 1444.26,935.84 1446.44,936.49 1448.62,937.11 1450.79,937.73 1452.97,938.32 1455.14,938.9 1457.32,939.46 1459.5,940.02 1461.67,940.56 1463.85,941.09 1466.03,941.61 1468.2,942.12 1470.38,942.62 1472.56,943.11 1474.73,943.59 1476.91,944.06 1479.09,944.53 1481.26,944.98 1483.44,945.43 1485.62,945.87 1487.79,946.31 1489.97,946.74 1492.15,947.16 1494.32,947.58 1496.5,947.99 1498.67,948.4 1500.85,948.8 1503.03,949.2 1505.2,949.6 1507.38,949.99 1509.56,950.38 1511.73,950.76 1513.91,951.13 1516.09,951.5 1518.26,951.87 1520.44,952.23 1522.62,952.58 1524.79,952.93 1526.97,953.27 1529.15,953.61 1531.32,953.94 1533.5,954.27 1535.68,954.58 1537.85,954.9 1540.03,955.2 1542.2,955.5" fill="none" stroke="#F01010" stroke-width="7.0" stroke-linecap="butt" stroke-linejoin="round"/>
<circle cx="1344.6" cy="604.1" r="3.7" fill="none" stroke="#000" stroke-width="4.0"/>
<circle cx="1352.8" cy="615" r="3.7" fill="none" stroke="#000" stroke-width="4.0"/>
<circle cx="1361.2" cy="626.9" r="3.7" fill="none" stroke="#000" stroke-width="4.0"/>
<circle cx="1368.9" cy="641.8" r="3.7" fill="none" stroke="#000" stroke-width="4.0"/>
<circle cx="1378" cy="652.9" r="3.7" fill="none" stroke="#000" stroke-width="4.0"/>
<circle cx="1388.4" cy="666.5" r="3.7" fill="none" stroke="#000" stroke-width="4.0"/>
<circle cx="1399.8" cy="678.9" r="3.7" fill="none" stroke="#000" stroke-width="4.0"/>
<circle cx="1413.2" cy="692.6" r="3.7" fill="none" stroke="#000" stroke-width="4.0"/>
<circle cx="1430.1" cy="709.9" r="3.7" fill="none" stroke="#000" stroke-width="4.0"/>
<circle cx="1447.4" cy="727.2" r="3.7" fill="none" stroke="#000" stroke-width="4.0"/>
<circle cx="1468.5" cy="747.1" r="3.7" fill="none" stroke="#000" stroke-width="4.0"/>
<circle cx="1495.7" cy="768.1" r="3.7" fill="none" stroke="#000" stroke-width="4.0"/>
<circle cx="1527.5" cy="793.4" r="3.7" fill="none" stroke="#000" stroke-width="4.0"/>
<line x1="1342.1" y1="613.3" x2="1528.9" y2="805.8" stroke="#F01010" stroke-width="6.6"/>
<rect x="1324.4" y="574.6" width="226.7" height="237.4" fill="none" stroke="#000" stroke-width="3.2"/>
<line x1="1336.6" y1="812" x2="1336.6" y2="807" stroke="#000" stroke-width="3"/>
<line x1="1361.85" y1="812" x2="1361.85" y2="809" stroke="#000" stroke-width="3"/>
<line x1="1387.1" y1="812" x2="1387.1" y2="807" stroke="#000" stroke-width="3"/>
<line x1="1412.35" y1="812" x2="1412.35" y2="809" stroke="#000" stroke-width="3"/>
<line x1="1437.6" y1="812" x2="1437.6" y2="807" stroke="#000" stroke-width="3"/>
<line x1="1462.85" y1="812" x2="1462.85" y2="809" stroke="#000" stroke-width="3"/>
<line x1="1488.1" y1="812" x2="1488.1" y2="807" stroke="#000" stroke-width="3"/>
<line x1="1513.35" y1="812" x2="1513.35" y2="809" stroke="#000" stroke-width="3"/>
<line x1="1538.6" y1="812" x2="1538.6" y2="807" stroke="#000" stroke-width="3"/>
<line x1="1324.4" y1="589.4" x2="1329.4" y2="589.4" stroke="#000" stroke-width="3"/>
<line x1="1324.4" y1="619.25" x2="1327.4" y2="619.25" stroke="#000" stroke-width="3"/>
<line x1="1324.4" y1="649.1" x2="1329.4" y2="649.1" stroke="#000" stroke-width="3"/>
<line x1="1324.4" y1="678.95" x2="1327.4" y2="678.95" stroke="#000" stroke-width="3"/>
<line x1="1324.4" y1="708.8" x2="1329.4" y2="708.8" stroke="#000" stroke-width="3"/>
<line x1="1324.4" y1="738.65" x2="1327.4" y2="738.65" stroke="#000" stroke-width="3"/>
<line x1="1324.4" y1="768.5" x2="1329.4" y2="768.5" stroke="#000" stroke-width="3"/>
<line x1="1324.4" y1="798.35" x2="1327.4" y2="798.35" stroke="#000" stroke-width="3"/>
<text x="1321.2" y="597" font-size="21.5" text-anchor="end" font-weight="bold">-18</text>
<text x="1321.2" y="656.7" font-size="21.5" text-anchor="end" font-weight="bold">-20</text>
<text x="1321.2" y="716.4" font-size="21.5" text-anchor="end" font-weight="bold">-22</text>
<text x="1321.2" y="776.1" font-size="21.5" text-anchor="end" font-weight="bold">-24</text>
<text x="1335.4" y="834.4" font-size="21" text-anchor="middle" font-weight="bold">0.14</text>
<text x="1385.9" y="834.4" font-size="21" text-anchor="middle" font-weight="bold">0.16</text>
<text x="1436.4" y="834.4" font-size="21" text-anchor="middle" font-weight="bold">0.18</text>
<text x="1486.9" y="834.4" font-size="21" text-anchor="middle" font-weight="bold">0.20</text>
<text x="1537.4" y="834.4" font-size="21" text-anchor="middle" font-weight="bold">0.22</text>
<text x="1282.5" y="698.6" font-size="31.4" font-weight="bold" text-anchor="middle" transform="rotate(-90 1282.5 698.6)">ln <tspan font-style="italic">I</tspan> (A)</text>
<text x="1367.3" y="871.9" font-size="31" font-weight="bold"><tspan font-style="italic">T</tspan><tspan font-size="20.5" dy="-9.6" dx="-1">-1/3</tspan><tspan dy="9.6" dx="1.5"> (K</tspan><tspan font-size="20.5" dy="-9.6" dx="0.5">-1/3</tspan><tspan dy="9.6" dx="2">)</tspan></text>
<rect x="1172.2" y="565" width="391" height="410.7" fill="none" stroke="#000" stroke-width="4.8" stroke-linejoin="miter"/>
<line x1="1215.73" y1="975.7" x2="1215.73" y2="971.2" stroke="#000" stroke-width="5"/>
<line x1="1259.26" y1="975.7" x2="1259.26" y2="967.5" stroke="#000" stroke-width="5"/>
<line x1="1302.79" y1="975.7" x2="1302.79" y2="971.2" stroke="#000" stroke-width="5"/>
<line x1="1346.32" y1="975.7" x2="1346.32" y2="967.5" stroke="#000" stroke-width="5"/>
<line x1="1389.85" y1="975.7" x2="1389.85" y2="971.2" stroke="#000" stroke-width="5"/>
<line x1="1433.38" y1="975.7" x2="1433.38" y2="967.5" stroke="#000" stroke-width="5"/>
<line x1="1476.91" y1="975.7" x2="1476.91" y2="971.2" stroke="#000" stroke-width="5"/>
<line x1="1520.44" y1="975.7" x2="1520.44" y2="967.5" stroke="#000" stroke-width="5"/>
<line x1="1172.2" y1="944.77" x2="1176.7" y2="944.77" stroke="#000" stroke-width="5"/>
<line x1="1172.2" y1="902.35" x2="1180.4" y2="902.35" stroke="#000" stroke-width="5"/>
<line x1="1172.2" y1="859.92" x2="1176.7" y2="859.92" stroke="#000" stroke-width="5"/>
<line x1="1172.2" y1="817.5" x2="1180.4" y2="817.5" stroke="#000" stroke-width="5"/>
<line x1="1172.2" y1="775.07" x2="1176.7" y2="775.07" stroke="#000" stroke-width="5"/>
<line x1="1172.2" y1="732.65" x2="1180.4" y2="732.65" stroke="#000" stroke-width="5"/>
<line x1="1172.2" y1="690.22" x2="1176.7" y2="690.22" stroke="#000" stroke-width="5"/>
<line x1="1172.2" y1="647.8" x2="1180.4" y2="647.8" stroke="#000" stroke-width="5"/>
<line x1="1172.2" y1="605.38" x2="1176.7" y2="605.38" stroke="#000" stroke-width="5"/>
<text x="1172.2" y="1003.7" font-size="24" text-anchor="middle" font-weight="bold">80</text>
<text x="1259.26" y="1003.7" font-size="24" text-anchor="middle" font-weight="bold">100</text>
<text x="1346.32" y="1003.7" font-size="24" text-anchor="middle" font-weight="bold">120</text>
<text x="1433.38" y="1003.7" font-size="24" text-anchor="middle" font-weight="bold">140</text>
<text x="1520.44" y="1003.7" font-size="24" text-anchor="middle" font-weight="bold">160</text>
<text x="1162.7" y="909.95" font-size="24" text-anchor="end" font-weight="bold">10</text>
<text x="1162.7" y="825.1" font-size="24" text-anchor="end" font-weight="bold">20</text>
<text x="1162.7" y="740.25" font-size="24" text-anchor="end" font-weight="bold">30</text>
<text x="1162.7" y="655.4" font-size="24" text-anchor="end" font-weight="bold">40</text>
<text x="1162.7" y="570.55" font-size="24" text-anchor="end" font-weight="bold">50</text>
<text x="1338.0" y="1041.2" font-size="31" font-weight="bold"><tspan font-style="italic">T</tspan><tspan dx="-1.5"> (K)</tspan></text>
<text x="1110.5" y="848.0" font-size="30.5" font-weight="normal" transform="rotate(-90 1110.5 848.0)"><tspan font-style="italic">R</tspan><tspan font-size="16" dy="9.5" dx="0.5">S</tspan><tspan dy="-9.5" dx="0.5"> (GΩ/</tspan><tspan dx="23">)</tspan></text>
<text x="1075.5" y="564.7" font-size="45" text-anchor="start" font-weight="bold">g</text>
<rect x="1717.2" y="578.4" width="11.8" height="11.8" fill="#858585"/>
<rect x="1717.2" y="584.5" width="11.8" height="11.8" fill="#858585"/>
<rect x="1735.9" y="582.6" width="11.8" height="11.8" fill="#858585"/>
<rect x="1750.8" y="593.6" width="11.8" height="11.8" fill="#858585"/>
<rect x="1728.8" y="600.3" width="11.8" height="11.8" fill="#858585"/>
<rect x="1743.1" y="601.1" width="11.8" height="11.8" fill="#858585"/>
<rect x="1716.8" y="621.6" width="11.8" height="11.8" fill="#858585"/>
<rect x="1721.2" y="629.8" width="11.8" height="11.8" fill="#858585"/>
<rect x="1765.6" y="625.1" width="11.8" height="11.8" fill="#858585"/>
<rect x="1758.2" y="635.4" width="11.8" height="11.8" fill="#858585"/>
<rect x="1802.2" y="649.5" width="11.8" height="11.8" fill="#858585"/>
<rect x="1809.9" y="652.7" width="11.8" height="11.8" fill="#858585"/>
<rect x="1817.1" y="678.6" width="11.8" height="11.8" fill="#858585"/>
<rect x="1795" y="688" width="11.8" height="11.8" fill="#858585"/>
<rect x="1780.3" y="695" width="11.8" height="11.8" fill="#858585"/>
<rect x="1772.7" y="705.1" width="11.8" height="11.8" fill="#858585"/>
<rect x="1787.6" y="709" width="11.8" height="11.8" fill="#858585"/>
<rect x="1861.3" y="715.6" width="11.8" height="11.8" fill="#858585"/>
<rect x="1848.8" y="727.8" width="11.8" height="11.8" fill="#858585"/>
<rect x="1854.5" y="725.9" width="11.8" height="11.8" fill="#858585"/>
<rect x="1824.4" y="737.7" width="11.8" height="11.8" fill="#858585"/>
<rect x="1832.6" y="734.9" width="11.8" height="11.8" fill="#858585"/>
<rect x="1839.4" y="738.5" width="11.8" height="11.8" fill="#858585"/>
<rect x="1890.9" y="750.9" width="11.8" height="11.8" fill="#858585"/>
<rect x="1868.9" y="759.6" width="11.8" height="11.8" fill="#858585"/>
<rect x="1904.2" y="770.3" width="11.8" height="11.8" fill="#858585"/>
<rect x="1897.7" y="777" width="11.8" height="11.8" fill="#858585"/>
<rect x="1877" y="788.9" width="11.8" height="11.8" fill="#858585"/>
<rect x="1883.4" y="790.1" width="11.8" height="11.8" fill="#858585"/>
<rect x="1912" y="787.7" width="11.8" height="11.8" fill="#858585"/>
<rect x="1919.9" y="795.6" width="11.8" height="11.8" fill="#858585"/>
<rect x="1934.2" y="790.8" width="11.8" height="11.8" fill="#858585"/>
<rect x="1941.8" y="780.6" width="11.8" height="11.8" fill="#858585"/>
<rect x="1949" y="785.3" width="11.8" height="11.8" fill="#858585"/>
<rect x="1956.1" y="816.3" width="11.8" height="11.8" fill="#858585"/>
<rect x="1963.3" y="812.7" width="11.8" height="11.8" fill="#858585"/>
<rect x="1971.6" y="817.5" width="11.8" height="11.8" fill="#858585"/>
<rect x="1978" y="816.3" width="11.8" height="11.8" fill="#858585"/>
<rect x="1985.9" y="834.2" width="11.8" height="11.8" fill="#858585"/>
<rect x="1993.1" y="856.8" width="11.8" height="11.8" fill="#858585"/>
<rect x="2008.1" y="852.1" width="11.8" height="11.8" fill="#858585"/>
<rect x="2015.2" y="874.7" width="11.8" height="11.8" fill="#858585"/>
<rect x="2000.2" y="885.4" width="11.8" height="11.8" fill="#858585"/>
<rect x="2051.9" y="906.2" width="11.8" height="11.8" fill="#858585"/>
<rect x="2022.4" y="922.9" width="11.8" height="11.8" fill="#858585"/>
<rect x="2036.7" y="935.5" width="11.8" height="11.8" fill="#858585"/>
<rect x="2030" y="942.6" width="11.8" height="11.8" fill="#858585"/>
<rect x="2066.9" y="931.4" width="11.8" height="11.8" fill="#858585"/>
<rect x="2072.4" y="940.2" width="11.8" height="11.8" fill="#858585"/>
<rect x="2044.8" y="956.9" width="11.8" height="11.8" fill="#858585"/>
<rect x="2059.8" y="956.9" width="11.8" height="11.8" fill="#858585"/>
<line x1="1721" y1="603.3" x2="2079" y2="946.5" stroke="#F01010" stroke-width="5.6"/>
<clipPath id="hclip"><rect x="1905.9" y="572.6" width="184.8" height="154.4"/></clipPath>
<g clip-path="url(#hclip)">
<rect x="1905.9" y="572.6" width="184.8" height="154.4" fill="#C2566A"/>
<polygon points="1905,572 1913.1,572 1959.4,607.4 1973.2,624 1973.2,646.6 1965.4,646.6 1965.4,632 1953.3,619.2 1905,601.2" fill="#FAF2A6" stroke="#D8785C" stroke-width="1.8" stroke-linejoin="round" paint-order="stroke"/>
<polygon points="1963.7,572 1974.9,572 1987.8,598.3 1987.8,646.6 1980,646.6 1980,621.5" fill="#FAF2A6" stroke="#D8785C" stroke-width="1.8" stroke-linejoin="round" paint-order="stroke"/>
<polygon points="1992.9,572 2005.8,572 2003.2,598 2003.2,646.6 1995.5,646.6 1995.5,598" fill="#FAF2A6" stroke="#D8785C" stroke-width="1.8" stroke-linejoin="round" paint-order="stroke"/>
<polygon points="2025.5,572 2042.7,572 2017.8,614 2017.8,646.6 2010.1,646.6 2010.1,616.3" fill="#FAF2A6" stroke="#D8785C" stroke-width="1.8" stroke-linejoin="round" paint-order="stroke"/>
<polygon points="2082.1,572 2091.5,572 2091.5,591.5 2032.4,630.1 2032.4,646.6 2024.6,646.6 2024.6,625.8" fill="#FAF2A6" stroke="#D8785C" stroke-width="1.8" stroke-linejoin="round" paint-order="stroke"/>
<polygon points="1905,637.5 1954.8,637.5 1954.8,666.8 1905,666.8" fill="#FAF2A6" stroke="#D8785C" stroke-width="1.8" stroke-linejoin="round" paint-order="stroke"/>
<polygon points="2042.5,636.9 2091.5,636.9 2091.5,670.9 2059.8,670.9 2059.8,668.3 2042.5,668.3" fill="#FAF2A6" stroke="#D8785C" stroke-width="1.8" stroke-linejoin="round" paint-order="stroke"/>
<polygon points="1965.4,657 1973.2,657 1973.2,679.5 1913.1,728 1905,728 1905,693.5 1950,678.6 1965.4,672.6" fill="#FAF2A6" stroke="#D8785C" stroke-width="1.8" stroke-linejoin="round" paint-order="stroke"/>
<polygon points="1980,657 1987.8,657 1987.8,684 1974.5,728 1961,728 1980,681.2" fill="#FAF2A6" stroke="#D8785C" stroke-width="1.8" stroke-linejoin="round" paint-order="stroke"/>
<polygon points="1995.5,657 2003.2,657 2003.2,705 2004.8,728 1993.9,728 1995.5,705" fill="#FAF2A6" stroke="#D8785C" stroke-width="1.8" stroke-linejoin="round" paint-order="stroke"/>
<polygon points="2010.1,657 2017.8,657 2017.8,687.2 2040.1,728 2025.5,728 2010.1,690.5" fill="#FAF2A6" stroke="#D8785C" stroke-width="1.8" stroke-linejoin="round" paint-order="stroke"/>
<polygon points="2024.6,657 2032.4,657 2032.4,672.6 2091.5,701.8 2091.5,728 2070.1,728 2024.6,678.6" fill="#FAF2A6" stroke="#D8785C" stroke-width="1.8" stroke-linejoin="round" paint-order="stroke"/>
<rect x="1955.0" y="647.0" width="87.5" height="10.0" fill="#D26A78"/>
</g>
<rect x="2039.6" y="714.4" width="30.9" height="6.9" fill="#FFFFFF"/>
<circle cx="1950.5" cy="588.0" r="14.2" fill="#000"/>
<polygon points="1948.2,580.0 1953.4,580.0 1950.8,583.6" fill="#C88890"/>
<polygon points="1948.2,596.6 1953.4,596.6 1950.8,593.0" fill="#C88890"/>
<polygon points="1942.4,585.6 1942.4,590.8 1946.0,588.2" fill="#C88890"/>
<polygon points="1959.0,585.6 1959.0,590.8 1955.4,588.2" fill="#C88890"/>
<text x="1971.9" y="597.4" font-size="30.7" font-weight="bold" font-style="italic">B</text>
<text x="1920.4" y="644.6" font-size="36.6" font-weight="bold" font-style="italic">I</text>
<text x="2060.0" y="643.4" font-size="36.6" font-weight="bold" font-style="italic">I</text>
<polygon points="1909,648.4 1931.8,648.4 1931.8,645.0 1946,652.4 1931.8,659.8 1931.8,656.2 1909,656.2" fill="#000"/>
<polygon points="2048.2,648.4 2071,648.4 2071,645.0 2085.2,652.4 2071,659.8 2071,656.2 2048.2,656.2" fill="#000"/>
<path d="M1906.0 588.7H1877.8V626M1877.8 662V707.2H1906.0" fill="none" stroke="#000" stroke-width="5.0"/>
<circle cx="1879.05" cy="643.8" r="17.7" fill="#fff" stroke="#000" stroke-width="6.1"/>
<text x="1865.8" y="651.0" font-size="23.8" font-style="italic" font-weight="normal">V</text>
<text x="1879.5" y="656.0" font-size="15" font-weight="normal">H</text>
<text x="1841.8" y="623.8" font-size="40.5" font-weight="normal">+</text>
<text x="1844.5" y="676.3" font-size="44" font-weight="normal">-</text>
<rect x="1705.3" y="565" width="391" height="410.7" fill="none" stroke="#000" stroke-width="4.8" stroke-linejoin="miter"/>
<line x1="1722.8" y1="975.7" x2="1722.8" y2="971.2" stroke="#000" stroke-width="5"/>
<line x1="1758.36" y1="975.7" x2="1758.36" y2="967.5" stroke="#000" stroke-width="5"/>
<line x1="1793.92" y1="975.7" x2="1793.92" y2="971.2" stroke="#000" stroke-width="5"/>
<line x1="1829.48" y1="975.7" x2="1829.48" y2="967.5" stroke="#000" stroke-width="5"/>
<line x1="1865.04" y1="975.7" x2="1865.04" y2="971.2" stroke="#000" stroke-width="5"/>
<line x1="1900.6" y1="975.7" x2="1900.6" y2="967.5" stroke="#000" stroke-width="5"/>
<line x1="1936.16" y1="975.7" x2="1936.16" y2="971.2" stroke="#000" stroke-width="5"/>
<line x1="1971.72" y1="975.7" x2="1971.72" y2="967.5" stroke="#000" stroke-width="5"/>
<line x1="2007.28" y1="975.7" x2="2007.28" y2="971.2" stroke="#000" stroke-width="5"/>
<line x1="2042.84" y1="975.7" x2="2042.84" y2="967.5" stroke="#000" stroke-width="5"/>
<line x1="2078.4" y1="975.7" x2="2078.4" y2="971.2" stroke="#000" stroke-width="5"/>
<line x1="1705.3" y1="616.52" x2="1709.8" y2="616.52" stroke="#000" stroke-width="5"/>
<line x1="1705.3" y1="667.85" x2="1713.5" y2="667.85" stroke="#000" stroke-width="5"/>
<line x1="1705.3" y1="719.17" x2="1709.8" y2="719.17" stroke="#000" stroke-width="5"/>
<line x1="1705.3" y1="770.5" x2="1713.5" y2="770.5" stroke="#000" stroke-width="5"/>
<line x1="1705.3" y1="821.83" x2="1709.8" y2="821.83" stroke="#000" stroke-width="5"/>
<line x1="1705.3" y1="873.15" x2="1713.5" y2="873.15" stroke="#000" stroke-width="5"/>
<line x1="1705.3" y1="924.48" x2="1709.8" y2="924.48" stroke="#000" stroke-width="5"/>
<text x="1758.36" y="1003.7" font-size="24" text-anchor="middle" font-weight="bold">-4.0</text>
<text x="1829.48" y="1003.7" font-size="24" text-anchor="middle" font-weight="bold">-2.0</text>
<text x="1900.6" y="1003.7" font-size="24" text-anchor="middle" font-weight="bold">0.0</text>
<text x="1971.72" y="1003.7" font-size="24" text-anchor="middle" font-weight="bold">2.0</text>
<text x="2042.84" y="1003.7" font-size="24" text-anchor="middle" font-weight="bold">4.0</text>
<text x="1695.8" y="572.8" font-size="24" text-anchor="end" font-weight="bold">-200</text>
<text x="1695.8" y="675.45" font-size="24" text-anchor="end" font-weight="bold">-210</text>
<text x="1695.8" y="778.1" font-size="24" text-anchor="end" font-weight="bold">-220</text>
<text x="1695.8" y="880.75" font-size="24" text-anchor="end" font-weight="bold">-230</text>
<text x="1695.8" y="983.4" font-size="24" text-anchor="end" font-weight="bold">-240</text>
<text x="1897.3" y="1041.1" font-size="31.4" text-anchor="middle" font-weight="bold">Magnetic Field (T)</text>
<text x="1631.8" y="893.6" font-size="31.4" text-anchor="start" font-weight="bold" transform="rotate(-90 1631.8 893.6)">Resistance (Ω)</text>
<text x="1593.7" y="563.5" font-size="45" text-anchor="start" font-weight="bold">h</text>
</svg></body></html>
